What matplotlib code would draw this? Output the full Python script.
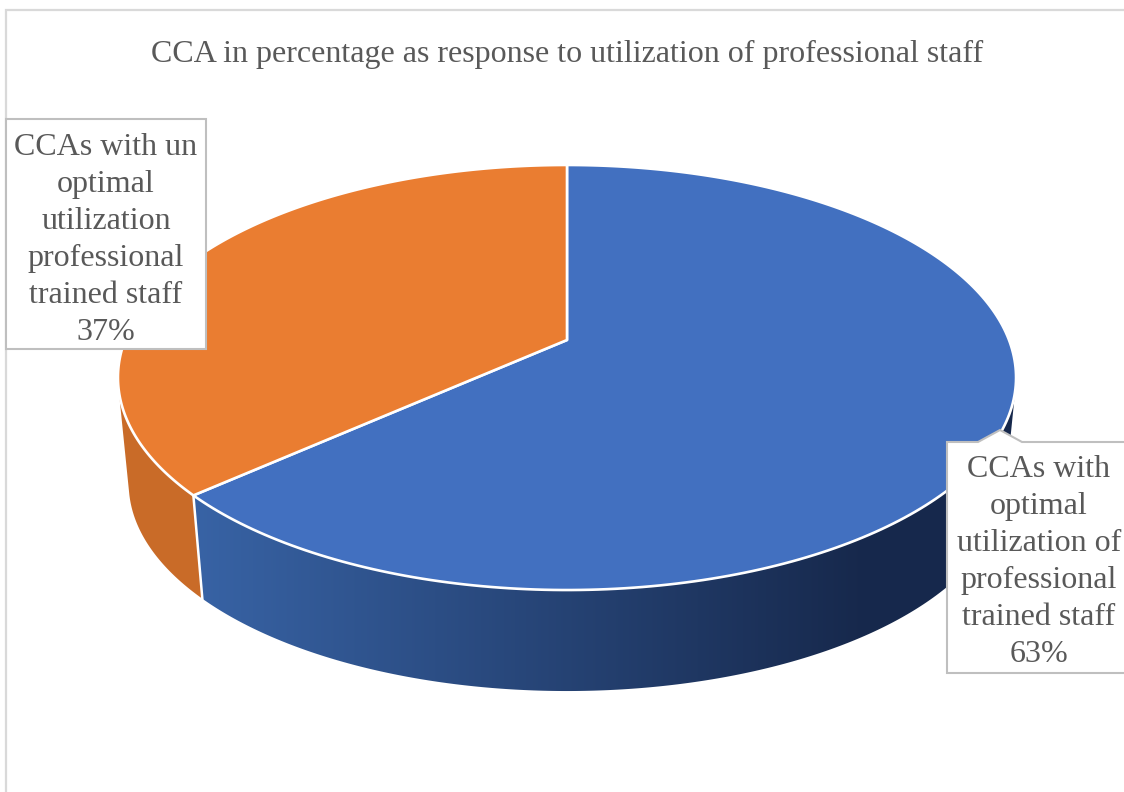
"""CCA share pie drawn as a 3D disc with perspective, in pixel coordinates."""
import numpy as np
import matplotlib
matplotlib.use("Agg")
import matplotlib.pyplot as plt
from matplotlib.patches import Polygon

TITLE = "CCA in percentage as response to utilization of professional staff"
LABELS = [
    "CCAs with\noptimal\nutilization of\nprofessional\ntrained staff",
    "CCAs with un\noptimal\nutilization\nprofessional\ntrained staff",
]
VALUES = [63.4, 36.6]

W, H = 1124, 792
TOP_COLORS = ["#4270c0", "#ea7d31"]
SIDE_LEFT = [(0.22, 0.39, 0.65), (0.79, 0.42, 0.16)]
SIDE_RIGHT = [(0.09, 0.16, 0.30), (0.76, 0.41, 0.15)]
TEXT_COLOR = "#595959"
BOX_EDGE = "#bfbfbf"

# disc geometry
CX = 567
TOP_CY, BOT_CY = 340, 447
RX, RY = 442, 205.9
BOT_SCALE = 0.976
PERSP = 0.1765
SHADE_X0, SHADE_X1 = 190, 860


def project(theta, cy, scale=1.0):
    # theta is clockwise from the top of the pie
    x, y = np.sin(theta), np.cos(theta)
    d = 1 + PERSP * y
    return CX + scale * RX * x / d, cy - scale * RY * y / d


def top_xy(t):
    return np.column_stack(project(t, TOP_CY))


def bot_xy(t):
    return np.column_stack(project(t, BOT_CY, BOT_SCALE))


def convex_hull(pts):
    pts = sorted(map(tuple, pts))

    def half(seq):
        out = []
        for p in seq:
            while len(out) > 1 and ((out[-1][0] - out[-2][0]) * (p[1] - out[-2][1])
                                    - (out[-1][1] - out[-2][1]) * (p[0] - out[-2][0])) <= 0:
                out.pop()
            out.append(p)
        return out[:-1]

    return np.array(half(pts) + half(pts[::-1]))


plt.rcParams["font.family"] = ["Liberation Serif", "DejaVu Serif"]
fig = plt.figure(figsize=(W / 100, H / 100), dpi=100)
ax = fig.add_axes([0, 0, 1, 1])

# chart frame
ax.plot([5.5, 5.5, W], [H, 10, 10], color="#d9d9d9", lw=1.6, solid_joinstyle="miter")

fracs = np.array(VALUES) / sum(VALUES)
edges = np.concatenate([[0], np.cumsum(fracs)]) * 2 * np.pi

# sides: a horizontal gradient clipped to each slice's rim
# the hull gives the straight silhouette; the part inside the rim is under the top face
for i in range(len(VALUES)):
    a0, a1 = max(edges[i], np.radians(75)), min(edges[i + 1], np.radians(285))
    ts = np.linspace(a0, a1, 300)
    outline = convex_hull(np.vstack([top_xy(ts), bot_xy(ts)]))
    xs = np.linspace(0, W, 562)
    f = np.clip((xs - SHADE_X0) / (SHADE_X1 - SHADE_X0), 0, 1)[None, :, None]
    grad = (1 - f) * np.array(SIDE_LEFT[i]) + f * np.array(SIDE_RIGHT[i])
    im = ax.imshow(grad, extent=(0, W, H, 0), aspect="auto", interpolation="bilinear")
    im.set_clip_path(Polygon(outline, closed=True, transform=ax.transData))

ax.set_xlim(0, W)
ax.set_ylim(H, 0)
ax.axis("off")

# white seam on the side where the slices meet
seam = edges[1]
ax.plot(*np.vstack([top_xy(np.array([seam])), bot_xy(np.array([seam]))]).T,
        color="white", lw=1.8)

# top faces
for i in range(len(VALUES)):
    ts = np.linspace(edges[i], edges[i + 1], 240)
    pts = np.vstack([[CX, TOP_CY], top_xy(ts)])
    ax.add_patch(Polygon(pts, closed=True, fc=TOP_COLORS[i], ec="white", lw=1.9,
                         joinstyle="round"))

# data labels
left_box = [(6, 119), (206, 119), (206, 349), (6, 349)]
right_box = [(947, 442), (978, 442), (1000, 430), (1022, 442), (W + 5, 442),
             (W + 5, 673), (947, 673)]
for box in (left_box, right_box):
    ax.add_patch(Polygon(box, closed=True, fc="white", ec=BOX_EDGE, lw=1.5, zorder=5))

label_pos = [(1039, 562), (106, 240)]
for i, (x, y) in enumerate(label_pos):
    ax.text(x, y, f"{LABELS[i]}\n{VALUES[i]:.0f}%", ha="center", va="center",
            fontsize=23, color=TEXT_COLOR, linespacing=1.36, zorder=6)

ax.text(567, 54, TITLE, ha="center", va="center", fontsize=23, color=TEXT_COLOR)

fig.savefig("out.png", dpi=100)
plt.close(fig)
